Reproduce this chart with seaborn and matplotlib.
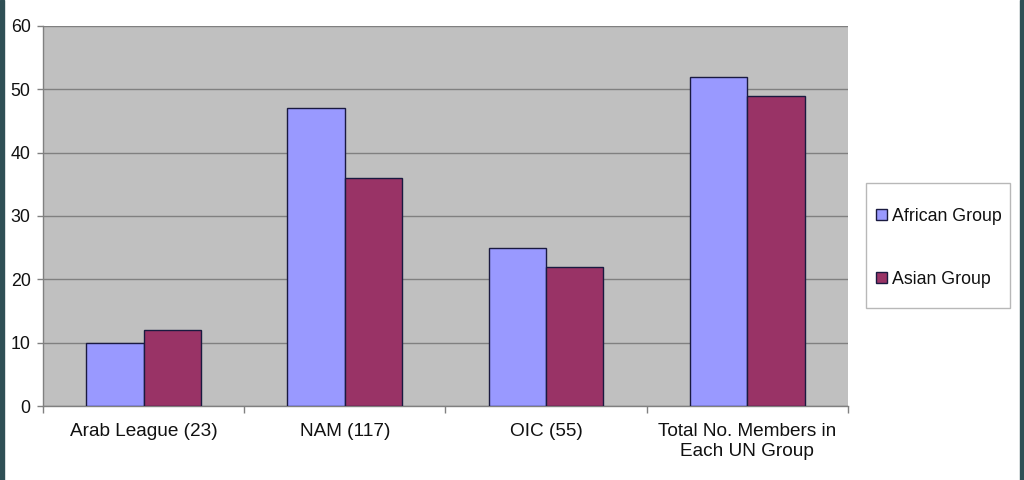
import pandas as pd
import matplotlib
matplotlib.use("Agg")
import matplotlib.pyplot as plt
import matplotlib.patches as mpatches
import seaborn as sns

# Chart data
categories = ["Arab League (23)", "NAM (117)", "OIC (55)",
              "Total No. Members in\nEach UN Group"]
african_group = [10, 47, 25, 52]
asian_group = [12, 36, 22, 49]
series_names = ["African Group", "Asian Group"]
series_colors = ["#9999FF", "#993366"]
y_ticks = [0, 10, 20, 30, 40, 50, 60]

df = pd.DataFrame({
    "Group": categories * 2,
    "Members": african_group + asian_group,
    "Series": [series_names[0]] * len(categories) + [series_names[1]] * len(categories),
})

sns.set_style("white")
plt.rcParams["font.family"] = ["Liberation Sans", "DejaVu Sans"]

fig = plt.figure(figsize=(10.24, 4.8), dpi=100)
ax = fig.add_axes([0.042, 0.154, 0.786, 0.792])
ax.set_facecolor("#C0C0C0")

sns.barplot(data=df, x="Group", y="Members", hue="Series",
            palette=series_colors, width=0.57, edgecolor="#1a1a40",
            linewidth=1.0, saturation=1, ax=ax, legend=False, zorder=3)

ax.set_xlim(-0.5, len(categories) - 0.5)
ax.set_ylim(0, 60)
ax.set_yticks(y_ticks)
ax.yaxis.grid(True, color="#808080", linewidth=1.0, zorder=0)
ax.set_axisbelow(True)
ax.set_xlabel("")
ax.set_ylabel("")

for side in ["top", "right"]:
    ax.spines[side].set_visible(False)
for side in ["left", "bottom"]:
    ax.spines[side].set_color("#808080")
    ax.spines[side].set_linewidth(1.0)

# category separators as minor ticks
ax.set_xticks([i - 0.5 for i in range(len(categories) + 1)], minor=True)
ax.tick_params(axis="x", which="major", bottom=False, length=0, pad=12,
               labelsize=13.7, labelcolor="#111111")
ax.tick_params(axis="x", which="minor", bottom=True, length=5,
               color="#808080", width=1)
ax.tick_params(axis="y", which="major", left=True, direction="out", length=4,
               color="#808080", width=1, labelsize=12.8, pad=5,
               labelcolor="#111111")
for lbl in ax.get_xticklabels():
    lbl.set_linespacing(1.25)

# legend box drawn separately so its padding matches the picture
fig.patches.append(mpatches.Rectangle((866 / 1024, 1 - 308 / 480), 144 / 1024, 125 / 480,
                                      transform=fig.transFigure, facecolor="white",
                                      edgecolor="#b8b8b8", linewidth=1.0, zorder=5))
handles = [mpatches.Patch(facecolor=c, edgecolor="#1a1a40", label=n)
           for c, n in zip(series_colors, series_names)]
leg = fig.legend(handles=handles, loc="center left",
                 bbox_to_anchor=(876 / 1024, 1 - 248 / 480), frameon=False,
                 fontsize=12.8, labelspacing=2.6, handlelength=0.6,
                 handleheight=0.6, handletextpad=0.3, borderpad=0,
                 borderaxespad=0)
leg.set_zorder(6)
for t in leg.get_texts():
    t.set_color("#111111")

# dark window edges seen at left and right
fig.patches.append(mpatches.Rectangle((0, 0), 0.004, 1, transform=fig.transFigure,
                                      color="#2f4f55", zorder=10))
fig.patches.append(mpatches.Rectangle((0.996, 0), 0.004, 1, transform=fig.transFigure,
                                      color="#2f4f55", zorder=10))

fig.savefig("out.png", dpi=100)
